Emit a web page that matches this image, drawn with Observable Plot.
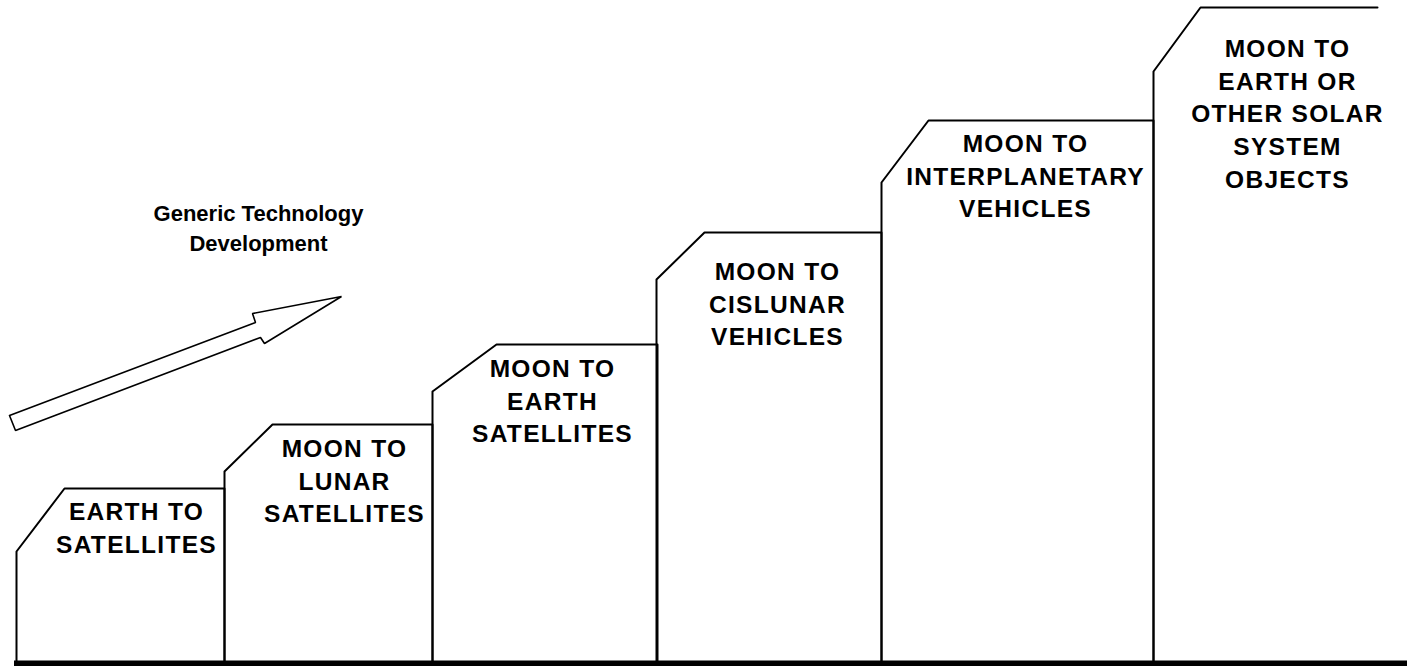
<!DOCTYPE html>
<html>
<head>
<meta charset="utf-8">
<script src="https://cdn.jsdelivr.net/npm/d3@7"></script>
<script src="https://cdn.jsdelivr.net/npm/@observablehq/plot@0.6"></script>
<style>
  html, body { margin: 0; padding: 0; background: #fff; }
  #chart svg { display: block; }
  #chart g.step-label { letter-spacing: 1.3px; }
</style>
</head>
<body>
<div id="chart"></div>
<script>
// Steps of the staircase (in chart units)
const stepLabels = [
  "EARTH TO\nSATELLITES",
  "MOON TO\nLUNAR\nSATELLITES",
  "MOON TO\nEARTH\nSATELLITES",
  "MOON TO\nCISLUNAR\nVEHICLES",
  "MOON TO\nINTERPLANETARY\nVEHICLES",
  "MOON TO\nEARTH OR\nOTHER SOLAR\nSYSTEM\nOBJECTS"
];
const stepLeft    = [16, 224, 432, 656, 881, 1153];
const stepRight   = [224, 432, 657, 881, 1153, 1377];
const stepTop     = [488, 424, 344, 232, 120, 7];
const bevelBottom = [551, 471, 391, 279, 182, 71];
const bevelEnd    = [64, 272, 496, 704, 928, 1200];
const stepClosed  = [true, true, true, true, true, false];
const groundLevel = 661;

// label anchors
const labelX = [136, 344, 552, 777, 1025, 1287];
const labelY = [505, 442, 362, 265, 137, 42];

// arrow outline
const arrowX = [9, 255, 252, 341, 264, 260, 15, 9];
const arrowY = [415, 322, 313, 296, 343, 337, 430, 415];
const arrowText = "Generic Technology\nDevelopment";
const arrowTextX = 258;
const arrowTextY = 205;

const FONT = "'Liberation Sans', Arial, Helvetica, sans-serif";

const outline = stepLeft.flatMap((l, i) => {
  const pts = [
    {id: i, x: l, y: groundLevel},
    {id: i, x: l, y: bevelBottom[i]},
    {id: i, x: bevelEnd[i], y: stepTop[i]},
    {id: i, x: stepRight[i], y: stepTop[i]}
  ];
  if (stepClosed[i]) pts.push({id: i, x: stepRight[i], y: groundLevel});
  return pts;
});
const arrow = arrowX.map((x, i) => ({x, y: arrowY[i]}));
const labels = stepLabels.map((t, i) => ({t, x: labelX[i], y: labelY[i]}));

const chart = Plot.plot({
  width: 1407,
  height: 666,
  margin: 0,
  x: {domain: [0, 1407], range: [0, 1407], axis: null},
  y: {domain: [0, 666], range: [0, 666], axis: null},
  style: {fontFamily: FONT, background: "#fff"},
  marks: [
    Plot.line(outline, {x: "x", y: "y", z: "id", stroke: "#000", strokeWidth: 2, curve: "linear"}),
    Plot.ruleY([663], {x1: 14, x2: 1407, stroke: "#000", strokeWidth: 6}),
    Plot.line(arrow, {x: "x", y: "y", stroke: "#000", strokeWidth: 1.6, fill: "none", strokeLinejoin: "miter"}),
    Plot.text(labels, {
      x: "x", y: "y", text: "t",
      lineAnchor: "top", textAnchor: "middle",
      fontSize: 24.5, fontWeight: "bold", lineHeight: 1.34, dy: -9,
      fill: "#000", className: "step-label"
    }),
    Plot.text([arrowText], {
      x: arrowTextX, y: arrowTextY, text: d => d,
      lineAnchor: "top", textAnchor: "middle",
      fontSize: 22, fontWeight: "bold", lineHeight: 1.36, dy: -6,
      fill: "#000"
    })
  ]
});
document.getElementById("chart").appendChild(chart);
</script>
</body>
</html>
